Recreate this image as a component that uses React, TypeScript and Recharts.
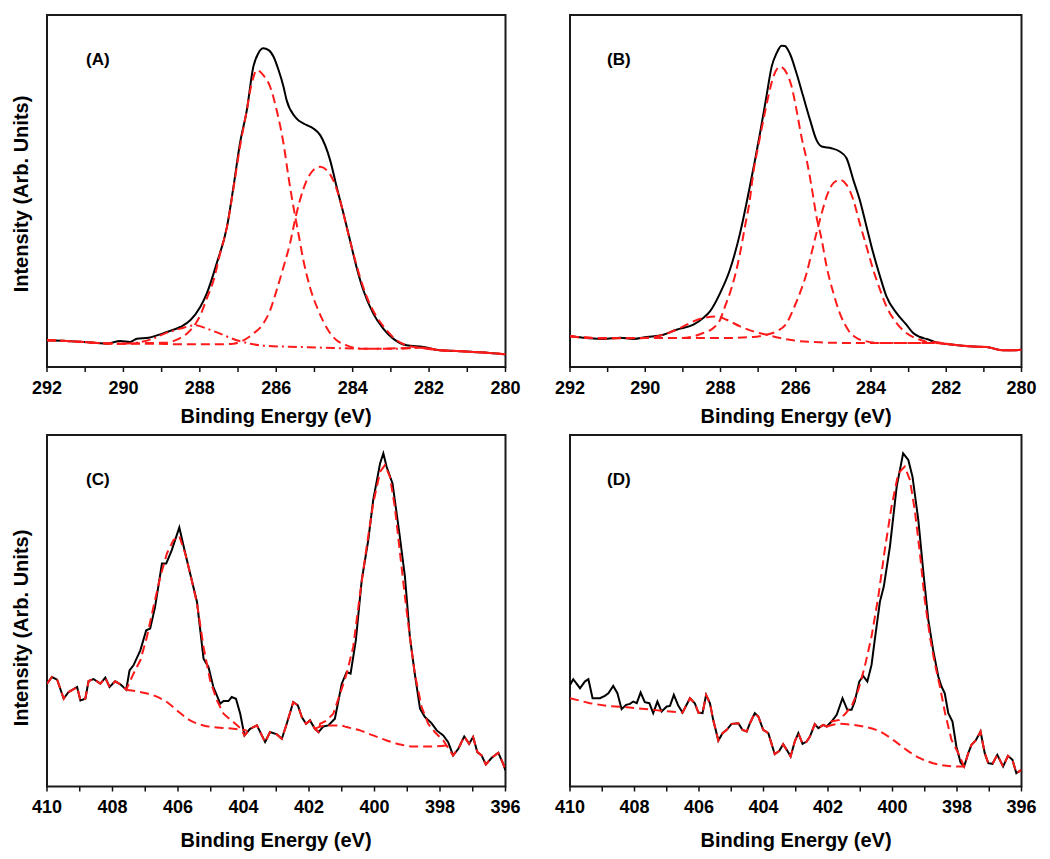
import React from 'react';
import { LineChart, Line, XAxis, YAxis, ReferenceArea } from 'recharts';

type P = [number, number];

// ---------- Tick values ----------
const C1S_TICKS = [292, 291, 290, 289, 288, 287, 286, 285, 284, 283, 282, 281, 280];
const N1S_TICKS = [410, 409, 408, 407, 406, 405, 404, 403, 402, 401, 400, 399, 398, 397, 396];

// ---------- Panel A (C 1s) ----------
const A_DATA: P[] = [
  [292.0, 80], [291.48, 78], [291.04, 75], [290.69, 72], [290.43, 70], [290.08, 78], [289.82, 75],
  [289.65, 85], [289.34, 88], [288.86, 105], [288.51, 120], [288.25, 140], [287.99, 180], [287.82, 220],
  [287.56, 310], [287.29, 420], [287.12, 540], [286.95, 670], [286.77, 770], [286.6, 900], [286.47, 940],
  [286.34, 955], [286.2, 950], [286.07, 930], [285.94, 890], [285.81, 840], [285.73, 800], [285.51, 750],
  [285.2, 725], [285.03, 715], [284.85, 695], [284.59, 620], [284.42, 540], [284.24, 460], [284.07, 380],
  [283.9, 300], [283.72, 230], [283.46, 160], [283.2, 115], [282.94, 85], [282.59, 65], [282.15, 60],
  [281.72, 50], [281.28, 48], [280.85, 45], [280.41, 42], [280.0, 38],
];
const A_PEAK1: P[] = [
  [292.0, 80], [291.48, 78], [291.04, 75], [290.69, 72], [290.08, 70], [289.34, 72], [288.86, 73],
  [288.6, 82], [288.34, 100], [288.12, 128], [287.95, 165], [287.82, 205], [287.64, 260], [287.47, 340],
  [287.29, 420], [287.12, 535], [286.95, 660], [286.77, 770], [286.68, 830], [286.6, 868], [286.51, 890],
  [286.42, 885], [286.34, 875], [286.16, 840], [285.99, 770], [285.81, 670], [285.68, 570], [285.55, 480],
  [285.42, 400], [285.29, 320], [285.12, 240], [284.9, 170], [284.64, 110], [284.42, 80], [284.16, 65],
  [283.81, 55], [283.2, 55], [282.59, 57], [282.15, 58], [281.72, 50], [281.28, 48], [280.85, 45],
  [280.41, 42], [280.0, 38],
];
const A_PEAK2: P[] = [
  [292.0, 80], [291.48, 78], [291.04, 75], [290.69, 72], [290.08, 70], [289.3, 70], [288.51, 68],
  [287.56, 68], [287.12, 70], [286.86, 80], [286.6, 100], [286.34, 130], [286.16, 170], [285.99, 230],
  [285.81, 300], [285.64, 370], [285.51, 440], [285.38, 500], [285.2, 560], [285.03, 590], [284.85, 600],
  [284.68, 590], [284.51, 560], [284.33, 500], [284.16, 420], [283.98, 340], [283.81, 270], [283.63, 210],
  [283.37, 150], [283.11, 110], [282.85, 80], [282.59, 65], [282.24, 58], [281.72, 50], [281.28, 48],
  [280.85, 45], [280.41, 42], [280.0, 38],
];
const A_PEAK3: P[] = [
  [292.0, 80], [291.48, 78], [291.04, 75], [290.69, 72], [290.08, 70], [289.73, 72], [289.3, 82],
  [288.86, 103], [288.51, 115], [288.12, 125], [287.82, 115], [287.47, 100], [287.03, 80], [286.68, 70],
  [286.25, 63], [285.38, 60], [284.51, 57], [283.63, 55], [282.76, 55], [282.24, 58], [281.72, 50],
  [281.28, 48], [280.85, 45], [280.41, 42], [280.0, 38],
];

// ---------- Panel B (C 1s) ----------
const B_DATA: P[] = [
  [292.0, 92], [291.56, 87], [291.11, 84], [290.67, 88], [290.32, 84], [289.96, 90], [289.52, 97],
  [289.17, 112], [288.72, 127], [288.46, 147], [288.28, 167], [288.01, 222], [287.75, 292], [287.48, 402],
  [287.22, 542], [286.95, 702], [286.78, 812], [286.64, 902], [286.51, 942], [286.38, 965], [286.29, 964],
  [286.16, 942], [285.98, 882], [285.8, 812], [285.62, 742], [285.45, 682], [285.31, 662], [285.05, 657],
  [284.83, 647], [284.65, 627], [284.47, 562], [284.3, 502], [284.12, 422], [283.94, 342], [283.76, 272],
  [283.59, 212], [283.32, 162], [283.06, 127], [282.88, 102], [282.7, 90], [282.52, 84], [282.26, 74],
  [281.82, 67], [281.37, 62], [280.93, 60], [280.49, 50], [280.22, 50], [280.0, 52],
];
const B_PEAK1: P[] = [
  [292.0, 92], [291.11, 86], [290.67, 87], [289.79, 87], [289.08, 87], [288.72, 92], [288.46, 102],
  [288.19, 117], [288.01, 142], [287.88, 182], [287.75, 222], [287.62, 272], [287.48, 342], [287.35, 422],
  [287.22, 502], [287.13, 582], [287.0, 662], [286.86, 742], [286.73, 812], [286.6, 870], [286.42, 902],
  [286.24, 882], [286.11, 842], [285.98, 772], [285.85, 692], [285.71, 622], [285.58, 542], [285.45, 452],
  [285.31, 382], [285.18, 302], [285.0, 222], [284.83, 162], [284.61, 112], [284.38, 87], [284.12, 77],
  [283.76, 72], [282.7, 72], [282.35, 72], [281.82, 67], [281.37, 62], [280.93, 60], [280.49, 50],
  [280.22, 50], [280.0, 52],
];
const B_PEAK2: P[] = [
  [292.0, 92], [291.11, 86], [290.67, 87], [289.79, 87], [288.01, 87], [287.13, 90], [286.78, 97],
  [286.51, 107], [286.24, 132], [286.07, 172], [285.89, 222], [285.71, 282], [285.58, 342], [285.45, 402],
  [285.31, 462], [285.18, 512], [285.0, 552], [284.83, 562], [284.65, 547], [284.47, 502], [284.3, 432],
  [284.12, 362], [283.94, 292], [283.76, 232], [283.59, 182], [283.32, 132], [283.06, 102], [282.7, 82],
  [282.44, 74], [282.26, 74], [281.82, 67], [281.37, 62], [280.93, 60], [280.49, 50], [280.22, 50],
  [280.0, 52],
];
const B_PEAK3: P[] = [
  [292.0, 92], [291.11, 86], [290.32, 86], [289.79, 90], [289.52, 97], [289.17, 112], [288.9, 127],
  [288.72, 137], [288.46, 147], [288.1, 152], [287.84, 142], [287.48, 122], [287.13, 107], [286.78, 97],
  [286.42, 87], [286.07, 80], [285.36, 74], [284.47, 72], [283.59, 72], [282.35, 72], [281.82, 67],
  [281.37, 62], [280.93, 60], [280.49, 50], [280.22, 50], [280.0, 52],
];

// ---------- Panel C (N 1s) ----------
const C_DATA: P[] = [
  [410.0, 308], [409.85, 328], [409.69, 320], [409.49, 263], [409.34, 283], [409.08, 298], [408.98, 258],
  [408.83, 263], [408.73, 316], [408.58, 322], [408.37, 308], [408.22, 326], [408.09, 298], [407.92, 315],
  [407.76, 306], [407.58, 290], [407.48, 348], [407.36, 363], [407.15, 408], [406.97, 468], [406.85, 473],
  [406.7, 538], [406.49, 668], [406.36, 668], [406.19, 708], [405.96, 776], [405.8, 708], [405.58, 618],
  [405.42, 553], [405.22, 383], [405.07, 358], [404.92, 298], [404.71, 248], [404.61, 256], [404.46, 256],
  [404.36, 268], [404.23, 263], [404.1, 218], [403.97, 153], [403.8, 173], [403.59, 183], [403.34, 133],
  [403.19, 163], [402.98, 156], [402.83, 143], [402.68, 188], [402.48, 253], [402.34, 243], [402.22, 208],
  [402.09, 188], [401.97, 198], [401.82, 173], [401.71, 163], [401.56, 180], [401.41, 183], [401.21, 203],
  [401.0, 308], [400.85, 343], [400.73, 338], [400.57, 438], [400.39, 618], [400.19, 738], [400.04, 858],
  [399.83, 968], [399.73, 998], [399.63, 958], [399.45, 908], [399.24, 758], [399.07, 628], [398.92, 448],
  [398.77, 338], [398.61, 233], [398.46, 208], [398.26, 190], [398.1, 168], [397.9, 153], [397.75, 133],
  [397.6, 93], [397.44, 113], [397.26, 150], [397.11, 128], [396.99, 148], [396.86, 103], [396.73, 93],
  [396.6, 66], [396.42, 86], [396.22, 101], [396.07, 68], [396.0, 48],
];
const C_FIT_PEAK1: P[] = [
  [407.36, 338], [407.15, 378], [406.95, 448], [406.75, 538], [406.54, 628], [406.34, 698], [406.14, 738],
  [405.96, 750], [405.78, 698], [405.58, 618], [405.42, 548], [405.22, 418], [405.02, 318], [404.81, 258],
  [404.61, 218], [404.31, 193], [404.1, 175],
];
const C_FIT_PEAK2: P[] = [
  [401.66, 188], [401.46, 198], [401.26, 218], [401.05, 278], [400.85, 338], [400.65, 418], [400.44, 578],
  [400.24, 718], [400.04, 848], [399.83, 943], [399.68, 963], [399.53, 928], [399.38, 838], [399.22, 698],
  [399.07, 568], [398.92, 448], [398.77, 338], [398.56, 238], [398.36, 188], [398.16, 163], [397.9, 138],
  [397.7, 108],
];
const C_BG1: P[] = [
  [407.58, 290], [407.15, 283], [406.75, 273], [406.34, 253], [406.03, 228], [405.63, 198], [405.22, 183],
  [404.71, 176], [404.31, 173], [403.9, 168],
];
const C_BG2: P[] = [
  [401.82, 173], [401.46, 183], [401.05, 183], [400.85, 178], [400.44, 168], [400.04, 153], [399.63, 138],
  [399.22, 126], [398.82, 120], [398.2, 120], [397.8, 123], [397.75, 133],
];

// ---------- Panel D (N 1s) ----------
const D_DATA: P[] = [
  [410.0, 305], [409.9, 322], [409.69, 295], [409.54, 315], [409.43, 322], [409.3, 265], [409.07, 265],
  [408.92, 272], [408.81, 280], [408.66, 302], [408.53, 280], [408.4, 232], [408.26, 245], [408.14, 248],
  [408.04, 255], [407.93, 250], [407.81, 282], [407.68, 253], [407.54, 250], [407.42, 220], [407.29, 255],
  [407.16, 225], [407.0, 240], [406.9, 242], [406.78, 275], [406.64, 242], [406.51, 222], [406.28, 265],
  [406.13, 250], [406.02, 222], [405.89, 220], [405.78, 275], [405.66, 250], [405.56, 200], [405.4, 138],
  [405.27, 160], [405.14, 170], [404.99, 188], [404.78, 190], [404.65, 170], [404.52, 165], [404.42, 190],
  [404.27, 220], [404.16, 210], [404.01, 170], [403.85, 160], [403.75, 128], [403.65, 97], [403.51, 107],
  [403.39, 127], [403.28, 110], [403.16, 90], [403.03, 135], [402.92, 160], [402.79, 128], [402.66, 135],
  [402.56, 150], [402.41, 187], [402.3, 175], [402.15, 185], [402.04, 180], [401.89, 195], [401.73, 215],
  [401.55, 265], [401.4, 230], [401.27, 230], [401.17, 255], [401.03, 315], [400.91, 332], [400.78, 315],
  [400.65, 365], [400.55, 440], [400.39, 555], [400.27, 600], [400.08, 720], [399.87, 900], [399.67, 1000],
  [399.51, 980], [399.38, 930], [399.2, 800], [399.03, 630], [398.89, 500], [398.74, 410], [398.58, 330],
  [398.48, 300], [398.38, 280], [398.27, 220], [398.14, 195], [398.02, 120], [397.89, 72], [397.78, 60],
  [397.65, 100], [397.55, 125], [397.42, 138], [397.27, 165], [397.14, 100], [397.03, 70], [396.9, 68],
  [396.75, 95], [396.57, 60], [396.42, 92], [396.28, 80], [396.16, 40], [396.0, 50],
];
const D_FIT_LEFT: P[] = [
  [410.0, 265], [409.38, 250], [408.86, 242], [408.24, 238], [407.42, 230], [406.69, 223],
];
const D_FIT_PEAK: P[] = [
  [401.65, 200], [401.45, 220], [401.27, 240], [401.06, 290], [400.86, 360], [400.65, 450], [400.44, 570],
  [400.24, 710], [400.03, 840], [399.82, 940], [399.62, 960], [399.46, 920], [399.31, 830], [399.15, 700],
  [399.0, 560], [398.84, 450], [398.69, 370], [398.53, 300], [398.37, 220], [398.17, 140], [397.96, 100],
];
const D_BG2: P[] = [
  [402.04, 180], [401.65, 188], [401.22, 185], [400.8, 178], [400.39, 165], [399.98, 140], [399.57, 110],
  [399.15, 85], [398.74, 70], [398.33, 62], [397.91, 60], [397.78, 60],
];

// ---------- helpers ----------
const toPts = (a: P[]) => a.map(([e, v]) => ({ e, v }));
const between = (a: P[], hi: number, lo: number) => a.filter(([e]) => e <= hi && e >= lo);

const C_FIT: P[] = [
  ...between(C_DATA, 410, 407.58),
  ...C_FIT_PEAK1,
  ...between(C_DATA, 403.97, 401.71),
  ...C_FIT_PEAK2,
  ...between(C_DATA, 397.6, 396),
];
const D_FIT: P[] = [
  ...D_FIT_LEFT,
  ...between(D_DATA, 406.51, 401.89),
  ...D_FIT_PEAK,
  ...between(D_DATA, 397.78, 396),
];

const FONT = '"Liberation Sans", Arial, Helvetica, sans-serif';
const RED = '#ff1a1a';
const DASH = '9 5';
const DASHDOT = '9 4 2 4';

type Series = { data: P[]; color: string; dash?: string; curve: 'monotone' | 'linear' };

type PanelProps = {
  left: number; top: number; width: number; height: number;
  x0: number; x1: number; y0: number; y1: number;
  xDomain: [number, number]; yMax: number; ticks: number[]; series: Series[];
};

function Panel(p: PanelProps) {
  const XH = 30;
  const margin = {
    left: p.x0 - p.left,
    right: p.left + p.width - p.x1,
    top: p.y0 - p.top,
    bottom: p.top + p.height - p.y1 - XH,
  };
  return (
    <div style={{ position: 'absolute', left: p.left, top: p.top, width: p.width, height: p.height }}>
      <LineChart width={p.width} height={p.height} margin={margin}>
        <XAxis
          dataKey="e"
          type="number"
          domain={p.xDomain}
          reversed
          allowDataOverflow
          ticks={p.ticks}
          interval={0}
          height={XH}
          axisLine={false}
          tickLine={{ stroke: '#111', strokeWidth: 1.5 }}
          tickSize={5}
          tickMargin={9}
          tickFormatter={(v: number) => (v % 2 === 0 ? String(v) : '')}
          tick={{ fill: '#000', fontSize: 18, fontWeight: 'bold', fontFamily: FONT }}
        />
        <YAxis hide type="number" domain={[0, p.yMax]} allowDataOverflow />
        {p.series.map((s, i) => (
          <Line
            key={i}
            data={toPts(s.data)}
            dataKey="v"
            type={s.curve}
            stroke={s.color}
            strokeWidth={2}
            strokeDasharray={s.dash}
            dot={false}
            activeDot={false}
            isAnimationActive={false}
          />
        ))}
        <ReferenceArea
          x1={p.xDomain[1]}
          x2={p.xDomain[0]}
          y1={0}
          y2={p.yMax}
          fill="none"
          fillOpacity={0}
          stroke="#1a1a1a"
          strokeWidth={2}
          ifOverflow="visible"
        />
      </LineChart>
    </div>
  );
}

const textStyle: React.CSSProperties = { fontFamily: FONT, fontWeight: 'bold', fill: '#000' };

export default function App() {
  return (
    <div style={{ position: 'absolute', left: 0, top: 0, width: 1050, height: 859, background: '#fff' }}>
      <Panel
        left={0} top={0} width={525} height={430}
        x0={47} x1={505.5} y0={15} y1={367}
        xDomain={[280, 292]} yMax={1055} ticks={C1S_TICKS}
        series={[
          { data: A_DATA, color: '#000', curve: 'monotone' },
          { data: A_PEAK1, color: RED, dash: DASH, curve: 'monotone' },
          { data: A_PEAK2, color: RED, dash: DASH, curve: 'monotone' },
          { data: A_PEAK3, color: RED, dash: DASHDOT, curve: 'monotone' },
        ]}
      />
      <Panel
        left={525} top={0} width={525} height={430}
        x0={570} x1={1021.5} y0={15} y1={367}
        xDomain={[280, 292]} yMax={1057} ticks={C1S_TICKS}
        series={[
          { data: B_DATA, color: '#000', curve: 'monotone' },
          { data: B_PEAK1, color: RED, dash: DASH, curve: 'monotone' },
          { data: B_PEAK2, color: RED, dash: DASH, curve: 'monotone' },
          { data: B_PEAK3, color: RED, dash: DASH, curve: 'monotone' },
        ]}
      />
      <Panel
        left={0} top={430} width={525} height={429}
        x0={47} x1={505.5} y0={435} y1={786.5}
        xDomain={[396, 410]} yMax={1053} ticks={N1S_TICKS}
        series={[
          { data: C_DATA, color: '#000', curve: 'linear' },
          { data: C_FIT, color: RED, dash: DASH, curve: 'linear' },
          { data: C_BG1, color: RED, dash: DASH, curve: 'monotone' },
          { data: C_BG2, color: RED, dash: DASH, curve: 'monotone' },
        ]}
      />
      <Panel
        left={525} top={430} width={525} height={429}
        x0={570} x1={1021.5} y0={435} y1={786.5}
        xDomain={[396, 410]} yMax={1055} ticks={N1S_TICKS}
        series={[
          { data: D_DATA, color: '#000', curve: 'linear' },
          { data: D_FIT, color: RED, dash: DASH, curve: 'linear' },
          { data: D_BG2, color: RED, dash: DASH, curve: 'monotone' },
        ]}
      />
      <svg
        width={1050}
        height={859}
        style={{ position: 'absolute', left: 0, top: 0, pointerEvents: 'none' }}
      >
        <text x={86} y={65} fontSize={17} style={textStyle}>(A)</text>
        <text x={607} y={65} fontSize={17} style={textStyle}>(B)</text>
        <text x={86} y={485} fontSize={17} style={textStyle}>(C)</text>
        <text x={607} y={485} fontSize={17} style={textStyle}>(D)</text>
        <text x={276} y={423} fontSize={20} textAnchor="middle" style={textStyle}>Binding Energy (eV)</text>
        <text x={796} y={423} fontSize={20} textAnchor="middle" style={textStyle}>Binding Energy (eV)</text>
        <text x={276} y={847} fontSize={20} textAnchor="middle" style={textStyle}>Binding Energy (eV)</text>
        <text x={796} y={847} fontSize={20} textAnchor="middle" style={textStyle}>Binding Energy (eV)</text>
        <text transform="translate(28,194) rotate(-90)" fontSize={20} textAnchor="middle" style={textStyle}>
          Intensity (Arb. Units)
        </text>
        <text transform="translate(28,628) rotate(-90)" fontSize={20} textAnchor="middle" style={textStyle}>
          Intensity (Arb. Units)
        </text>
      </svg>
    </div>
  );
}
